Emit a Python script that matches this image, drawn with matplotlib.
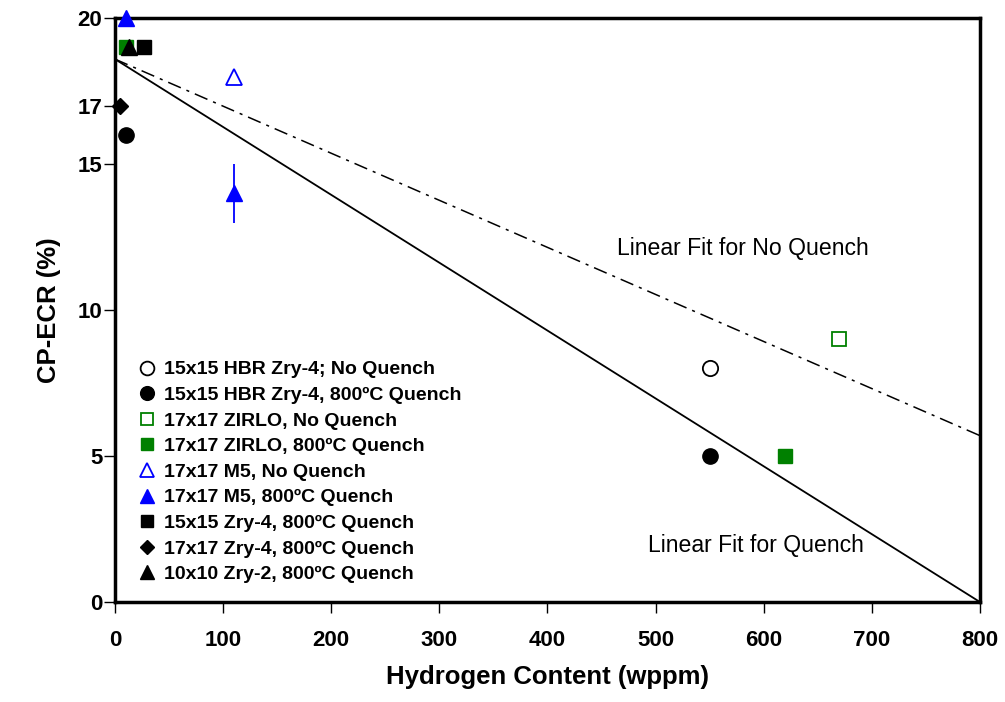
import numpy as np
import matplotlib.pyplot as plt

plt.rcParams.update({'font.family': 'Liberation Sans',
                     'font.weight': 'bold',
                     'axes.labelweight': 'bold'})

# data
hbr_nq_x = [550]
hbr_nq_y = [8]
hbr_q_x = [10, 550]
hbr_q_y = [16, 5]
zirlo_nq_x = [670]
zirlo_nq_y = [9]
zirlo_q_x = [10, 620]
zirlo_q_y = [19, 5]
m5_nq_x = [110]
m5_nq_y = [18]
m5_q_x = [10, 110]
m5_q_y = [20, 14]
m5_q_err = [0, 1]
zry4_15_x = [27]
zry4_15_y = [19]
zry4_17_x = [5]
zry4_17_y = [17]
zry2_x = [13]
zry2_y = [19]

fit_x = [0, 800]
fit_quench = [18.6, 0.0]
fit_noquench = [18.6, 5.7]

green = '#008000'
blue = '#0000FF'

fig, ax = plt.subplots(figsize=(10.05, 7.02), dpi=100)
fig.subplots_adjust(left=0.1144, right=0.975, bottom=0.1425, top=0.974)

ax.plot(fit_x, fit_quench, color='black', lw=1.3)
ax.plot(fit_x, fit_noquench, color='black', lw=1.1, linestyle=(0, (9, 4, 2, 4)))

ms = 11
kw = dict(linestyle='none', clip_on=False, zorder=5)
ax.plot(hbr_nq_x, hbr_nq_y, marker='o', mfc='white', mec='black', mew=1.3, ms=ms,
        label='15x15 HBR Zry-4; No Quench', **kw)
ax.plot(hbr_q_x, hbr_q_y, marker='o', mfc='black', mec='black', ms=ms,
        label='15x15 HBR Zry-4, 800ºC Quench', **kw)
ax.plot(zirlo_nq_x, zirlo_nq_y, marker='s', mfc='white', mec=green, mew=1.3, ms=ms - 1,
        label='17x17 ZIRLO, No Quench', **kw)
ax.plot(zirlo_q_x, zirlo_q_y, marker='s', mfc=green, mec=green, ms=ms - 1,
        label='17x17 ZIRLO, 800ºC Quench', **kw)
ax.plot(m5_nq_x, m5_nq_y, marker='^', mfc='white', mec=blue, mew=1.3, ms=ms,
        label='17x17 M5, No Quench', **kw)
ax.errorbar(m5_q_x, m5_q_y, yerr=m5_q_err, fmt='none', ecolor=blue, elinewidth=1.3,
            capsize=0, zorder=4)
ax.plot(m5_q_x, m5_q_y, marker='^', mfc=blue, mec=blue, ms=ms,
        label='17x17 M5, 800ºC Quench', **kw)
ax.plot(zry4_15_x, zry4_15_y, marker='s', mfc='black', mec='black', ms=ms - 1,
        label='15x15 Zry-4, 800ºC Quench', **kw)
ax.plot(zry4_17_x, zry4_17_y, marker='D', mfc='black', mec='black', ms=ms - 3,
        label='17x17 Zry-4, 800ºC Quench', **kw)
ax.plot(zry2_x, zry2_y, marker='^', mfc='black', mec='black', ms=ms,
        label='10x10 Zry-2, 800ºC Quench', **kw)

ax.text(581, 12.1, 'Linear Fit for No Quench', fontsize=16.6, fontweight='normal',
        ha='center', va='center')
ax.text(593, 1.95, 'Linear Fit for Quench', fontsize=16.6, fontweight='normal',
        ha='center', va='center')

ax.set_xlim(0, 800)
ax.set_ylim(0, 20)
ax.set_xticks(np.arange(0, 801, 100))
ax.set_yticks([0, 5, 10, 15, 17, 20])
ax.tick_params(labelsize=16, length=8, width=1, direction='out', pad=12)
ax.tick_params(axis='y', pad=1)
for s in ax.spines.values():
    s.set_linewidth(2.5)

ax.set_xlabel('Hydrogen Content (wppm)', fontsize=18.5, labelpad=10)
ax.set_ylabel('CP-ECR (%)', fontsize=18.5, labelpad=12)

ax.legend(loc='lower left', bbox_to_anchor=(0.014, 0.009), frameon=False, fontsize=14,
          handlelength=0.6, handletextpad=0.6, labelspacing=0.41, markerscale=0.9,
          borderaxespad=0.3)

fig.savefig('out.png', dpi=100)
